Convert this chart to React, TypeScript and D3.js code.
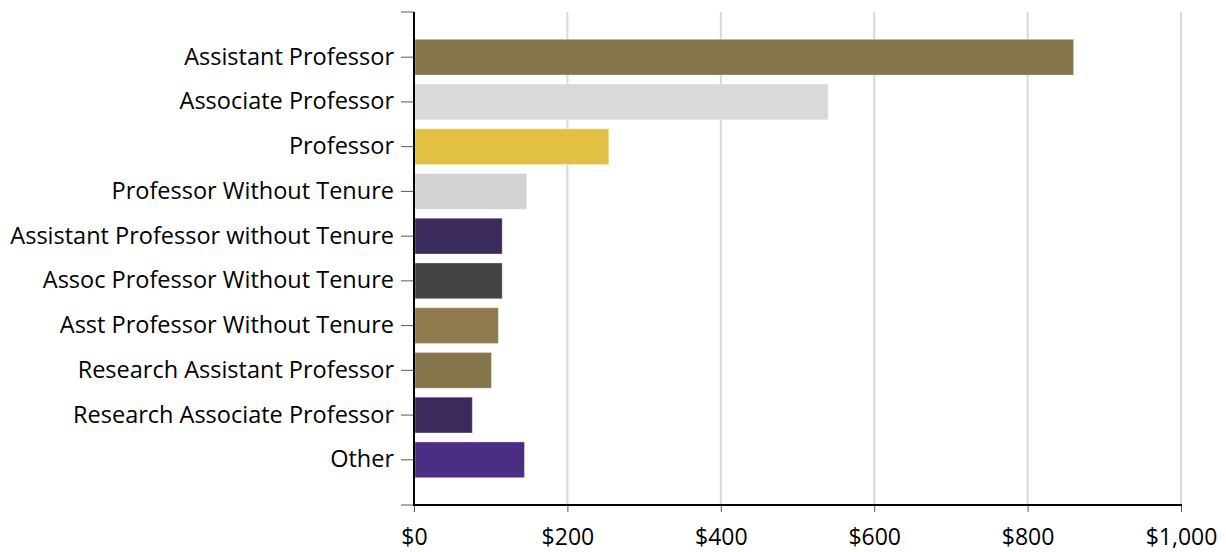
import React, { useEffect, useRef } from 'react';
import * as d3 from 'd3';

// job titles, top to bottom
const titles = [
  'Assistant Professor',
  'Associate Professor',
  'Professor',
  'Professor Without Tenure',
  'Assistant Professor without Tenure',
  'Assoc Professor Without Tenure',
  'Asst Professor Without Tenure',
  'Research Assistant Professor',
  'Research Associate Professor',
  'Other',
];
const amounts = [860, 540, 254, 147, 115, 115, 110, 101, 76, 144];
const barColors = [
  '#85754d', '#d9d9d9', '#e2c142', '#d3d3d3', '#3b2a5c',
  '#444444', '#8f7a4c', '#85754d', '#3b2a5c', '#4b2e83',
];
const xTicks = [0, 200, 400, 600, 800, 1000];

const App = () => {
  const ref = useRef<SVGSVGElement>(null);

  useEffect(() => {
    const width = 1226;
    const height = 552;
    const left = 414;
    const right = 1181;
    const top = 12;
    const bottom = 505;

    const svg = d3.select(ref.current);
    svg.selectAll('*').remove();

    const x = d3.scaleLinear().domain([0, 1000]).range([left, right]);
    const y = d3.scaleBand()
      .domain(titles)
      .range([top, bottom])
      .paddingInner(0.2)
      .paddingOuter(0.61);

    // vertical gridlines
    svg.append('g')
      .selectAll('line')
      .data(xTicks.slice(1))
      .enter()
      .append('line')
      .attr('x1', d => x(d))
      .attr('x2', d => x(d))
      .attr('y1', top)
      .attr('y2', bottom)
      .attr('stroke', '#d9d9d9')
      .attr('stroke-width', 2);

    svg.append('g')
      .selectAll('rect')
      .data(titles)
      .enter()
      .append('rect')
      .attr('x', x(0) + 1)
      .attr('y', d => y(d)!)
      .attr('width', (d, i) => x(amounts[i]) - x(0) - 1)
      .attr('height', y.bandwidth())
      .attr('fill', (d, i) => barColors[i])
      .attr('stroke', '#ffffff')
      .attr('stroke-opacity', 0.35)
      .attr('stroke-width', 1);

    const font = '"Open Sans", "Noto Sans", sans-serif';

    // y axis
    const yAxis = svg.append('g')
      .attr('transform', `translate(${left},0)`)
      .call(d3.axisLeft(y).tickSize(13).tickPadding(7));
    yAxis.select('.domain').remove();
    yAxis.selectAll('.tick line').attr('stroke', '#595959');
    yAxis.selectAll('.tick text')
      .attr('font-family', font)
      .attr('font-size', 23.5)
      .attr('fill', '#000');

    // end ticks of the y axis
    svg.append('g')
      .selectAll('line')
      .data([top, bottom])
      .enter()
      .append('line')
      .attr('x1', left - 13)
      .attr('x2', left)
      .attr('y1', d => d)
      .attr('y2', d => d)
      .attr('stroke', '#595959');

    svg.append('line')
      .attr('x1', left)
      .attr('x2', left)
      .attr('y1', top)
      .attr('y2', bottom)
      .attr('stroke', '#000')
      .attr('stroke-width', 2);

    // x axis
    const xAxis = svg.append('g')
      .attr('transform', `translate(0,${bottom})`)
      .call(
        d3.axisBottom(x)
          .tickValues(xTicks)
          .tickSize(7)
          .tickPadding(17)
          .tickFormat(d => '$' + d3.format(',')(d as number))
      );
    xAxis.select('.domain').remove();
    xAxis.selectAll('.tick line').attr('stroke', '#595959');
    xAxis.selectAll('.tick text')
      .attr('font-family', font)
      .attr('font-size', 23)
      .attr('fill', '#000');

    svg.append('line')
      .attr('x1', left - 1)
      .attr('x2', right + 1)
      .attr('y1', bottom)
      .attr('y2', bottom)
      .attr('stroke', '#000')
      .attr('stroke-width', 2);

    svg.attr('width', width).attr('height', height);
  }, []);

  return (
    <div style={{ position: 'absolute', left: 0, top: 0, background: '#fff' }}>
      <svg ref={ref} width={1226} height={552} style={{ display: 'block' }} />
    </div>
  );
};

export default App;
